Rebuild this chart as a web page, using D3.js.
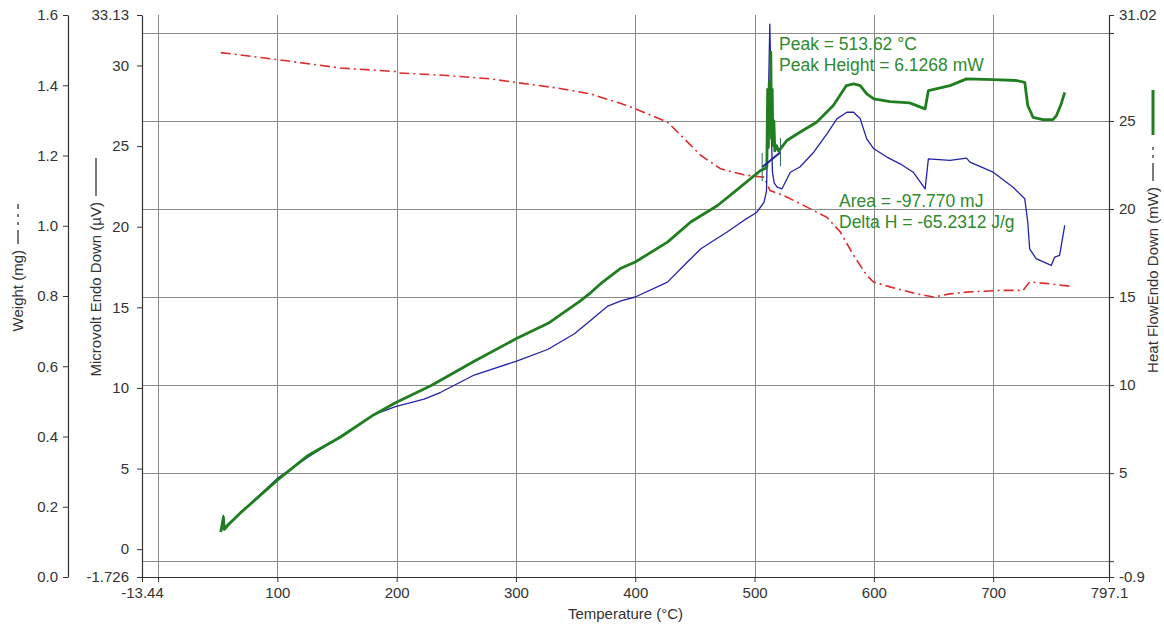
<!DOCTYPE html>
<html>
<head>
<meta charset="utf-8">
<script src="https://cdn.jsdelivr.net/npm/d3@7"></script>
<style>
  html, body { margin: 0; padding: 0; background: #ffffff; }
  svg { display: block; }
  text { font-family: "Liberation Sans", Arial, sans-serif; }
</style>
</head>
<body>
<script>
// ---- Data: TGA / DTA / DSC run, sample heated from ambient to ~760 °C ----

// Weight (mg) vs temperature (°C)
const weightTemps = [52.6, 100, 153, 199, 202, 237, 279, 300, 335, 363, 371, 388, 400, 427, 441, 455, 471.6, 491, 508, 513, 524.5, 544, 560.7, 571.9, 583, 594, 599.7, 613.6, 636, 650, 663.8, 677.7, 705.6, 725, 730.6, 747, 764];
const weightValues = [1.493, 1.473, 1.449, 1.439, 1.435, 1.429, 1.418, 1.408, 1.392, 1.375, 1.366, 1.348, 1.333, 1.295, 1.248, 1.200, 1.162, 1.145, 1.138, 1.100, 1.086, 1.053, 1.024, 0.982, 0.916, 0.859, 0.840, 0.826, 0.806, 0.797, 0.806, 0.811, 0.816, 0.816, 0.840, 0.835, 0.828];

// Microvolt signal, endo down (µV)
const microvoltTemps = [52.6, 54.8, 55.5, 58.7, 69, 100, 125, 153, 181, 199, 223, 237, 265, 300, 327, 349, 363, 371, 377, 388, 400, 427, 443.7, 455, 477, 491, 502, 508, 510, 511.2, 512, 512.8, 513.5, 514.2, 515, 516.5, 519, 523, 530, 538, 549.6, 560.7, 569, 577.4, 583, 588.6, 594, 600, 610.9, 622, 633, 643, 645.7, 663.8, 677.7, 680.5, 700, 716.7, 726.5, 729, 730.6, 736, 748.7, 751.5, 755.7, 760];
const microvoltValues = [1.07, 2.09, 1.33, 1.56, 2.25, 4.39, 5.67, 7.00, 8.34, 8.84, 9.30, 9.73, 10.80, 11.65, 12.40, 13.36, 14.22, 14.71, 15.08, 15.40, 15.64, 16.56, 17.81, 18.63, 19.67, 20.39, 20.90, 21.52, 22.20, 26.00, 29.50, 32.56, 30.00, 25.50, 23.40, 22.70, 22.45, 22.35, 23.38, 23.70, 24.62, 25.76, 26.69, 27.10, 27.10, 26.69, 25.45, 24.83, 24.32, 23.90, 23.38, 22.35, 24.21, 24.11, 24.25, 24.00, 23.38, 22.45, 21.73, 20.29, 18.63, 18.02, 17.60, 18.11, 18.22, 20.08];

// Heat flow, endo down (mW)
const heatTemps = [52.6, 54.8, 55.5, 58.7, 69, 100, 125, 153, 181, 199, 229, 265, 300, 327, 354, 363, 371, 388, 400, 427, 446.5, 469, 488, 505, 509, 510.3, 511.0, 511.6, 512.3, 513.0, 514.2, 514.8, 515.4, 516.2, 517.0, 518.5, 520, 521.7, 527, 538, 552, 566, 577, 583, 588.6, 594, 600, 613.6, 630, 643, 645.7, 663.8, 677.7, 700, 719.5, 726.5, 729, 733.4, 741.8, 750, 753, 757, 760];
const heatValues = [1.66, 2.50, 1.80, 2.05, 2.74, 4.60, 5.97, 7.05, 8.32, 9.00, 9.98, 11.35, 12.63, 13.51, 14.78, 15.27, 15.76, 16.64, 16.99, 18.12, 19.26, 20.20, 21.24, 22.19, 22.30, 22.40, 26.80, 23.50, 27.20, 24.50, 24.00, 26.80, 23.60, 25.00, 23.30, 23.60, 23.30, 23.42, 23.89, 24.36, 24.93, 25.88, 27.01, 27.11, 27.01, 26.54, 26.25, 26.10, 26.03, 25.69, 26.73, 27.01, 27.39, 27.35, 27.30, 27.20, 25.88, 25.21, 25.08, 25.08, 25.30, 25.97, 26.63];

// Integration baseline under the exotherm (°C, mW)
const baselineTemps = [506.4, 521.7];
const baselineValues = [22.38, 23.23];

// Peak analysis results
const peakTemp = 513.62;      // °C
const peakHeight = 6.1268;    // mW above the baseline
const areaValue = -97.770;    // mJ
const deltaH = -65.2312;      // J/g

// Axis ranges and tick labels
const tempRange = [-13.44, 797.1];
const tempTicks = [-13.44, 0, 100, 200, 300, 400, 500, 600, 700, 797.1];
const weightRange = [0, 1.6];
const weightTicks = [0, 0.2, 0.4, 0.6, 0.8, 1.0, 1.2, 1.4, 1.6];
const microvoltRange = [-1.726, 33.13];
const microvoltTicks = [-1.726, 0, 5, 10, 15, 20, 25, 30, 33.13];
const heatRange = [-0.9, 31.02];
const heatTicks = [-0.9, 0, 5, 10, 15, 20, 25, 30, 31.02];
const heatGrid = [0, 5, 10, 15, 20, 25, 30];
const tempGrid = [0, 100, 200, 300, 400, 500, 600, 700];

// ---- Layout ----
const W = 1164, H = 628;
const plot = { left: 142, right: 1109, top: 15, bottom: 577 };
const weightAxisX = 68;
const tickFont = "15px";
const titleFont = "15px";
const noteFont = "17.5px";

const svg = d3.select("body").append("svg")
  .attr("width", W).attr("height", H)
  .style("background", "#ffffff");

const x = d3.scaleLinear().domain(tempRange).range([plot.left, plot.right]);
const yW = d3.scaleLinear().domain(weightRange).range([plot.bottom, plot.top]);
const yUV = d3.scaleLinear().domain(microvoltRange).range([plot.bottom, plot.top]);
const yHF = d3.scaleLinear().domain(heatRange).range([plot.bottom, plot.top]);

const gridColor = "#8a8a8a";
const axisColor = "#333333";
const labelColor = "#333333";

// Grid
const grid = svg.append("g");
grid.selectAll("line.h").data(heatGrid).join("line")
  .attr("x1", plot.left).attr("x2", plot.right)
  .attr("y1", d => Math.round(yHF(d)) + 0.5).attr("y2", d => Math.round(yHF(d)) + 0.5)
  .attr("stroke", gridColor).attr("stroke-width", 1);
grid.selectAll("line.v").data(tempGrid).join("line")
  .attr("y1", plot.top).attr("y2", plot.bottom)
  .attr("x1", d => Math.round(x(d)) + 0.5).attr("x2", d => Math.round(x(d)) + 0.5)
  .attr("stroke", gridColor).attr("stroke-width", 1);

// Axis formatters: interior ticks without a label where they would crowd the end values
const fmtTemp = d => (d === 0 ? "" : String(d));
const fmtWeight = d => d3.format(".1f")(d);
const fmtUV = d => String(d);
const fmtHF = d => (d === 0 || d === 30 ? "" : String(d));

function styleAxis(g) {
  g.selectAll("path.domain").attr("stroke", axisColor).attr("stroke-width", 1.2);
  g.selectAll(".tick line").attr("stroke", axisColor);
  g.selectAll(".tick text")
    .attr("fill", labelColor)
    .style("font-family", '"Liberation Sans", Arial, sans-serif')
    .style("font-size", tickFont);
}

svg.append("g")
  .attr("transform", `translate(0,${plot.bottom})`)
  .call(d3.axisBottom(x).tickValues(tempTicks).tickFormat(fmtTemp).tickSize(5).tickSizeOuter(0).tickPadding(5))
  .call(styleAxis);

svg.append("g")
  .attr("transform", `translate(${weightAxisX},0)`)
  .call(d3.axisLeft(yW).tickValues(weightTicks).tickFormat(fmtWeight).tickSize(5).tickSizeOuter(0).tickPadding(5))
  .call(styleAxis);

svg.append("g")
  .attr("transform", `translate(${plot.left},0)`)
  .call(d3.axisLeft(yUV).tickValues(microvoltTicks).tickFormat(fmtUV).tickSize(5).tickSizeOuter(0).tickPadding(8))
  .call(styleAxis);

svg.append("g")
  .attr("transform", `translate(${plot.right},0)`)
  .call(d3.axisRight(yHF).tickValues(heatTicks).tickFormat(fmtHF).tickSize(5).tickSizeOuter(0).tickPadding(5))
  .call(styleAxis);

// Axis titles, each followed by a sample of its line style
function axisTitle(cx, yEnd, label, sample) {
  const g = svg.append("g").attr("transform", `translate(${cx},${yEnd}) rotate(-90)`);
  g.append("text")
    .attr("x", 0).attr("y", 0).attr("dy", "0.35em")
    .attr("text-anchor", "end")
    .attr("fill", labelColor)
    .style("font-size", titleFont)
    .text(label);
  sample(g);
}

axisTitle(18, 250, "Weight (mg)", g => {
  g.append("line").attr("x1", 6).attr("x2", 46).attr("y1", 0).attr("y2", 0)
    .attr("stroke", "#222").attr("stroke-width", 1.2).attr("stroke-dasharray", "14,5,3,5,3,5");
});
axisTitle(96, 202, "Microvolt Endo Down (µV)", g => {
  g.append("line").attr("x1", 6).attr("x2", 44).attr("y1", 0).attr("y2", 0)
    .attr("stroke", "#222").attr("stroke-width", 1.2);
});
axisTitle(1153, 187, "Heat FlowEndo Down (mW)", g => {
  g.append("line").attr("x1", 6).attr("x2", 46).attr("y1", 0).attr("y2", 0)
    .attr("stroke", "#222").attr("stroke-width", 1.2).attr("stroke-dasharray", "18,5,3,5,3,6");
  g.append("line").attr("x1", 52).attr("x2", 97).attr("y1", 0).attr("y2", 0)
    .attr("stroke", "#1f7f1f").attr("stroke-width", 3);
});

svg.append("text")
  .attr("x", (plot.left + plot.right) / 2).attr("y", 619)
  .attr("text-anchor", "middle")
  .attr("fill", labelColor)
  .style("font-size", titleFont)
  .text("Temperature (°C)");

// ---- Series ----
svg.append("clipPath").attr("id", "plot-clip")
  .append("rect")
  .attr("x", plot.left).attr("y", plot.top)
  .attr("width", plot.right - plot.left).attr("height", plot.bottom - plot.top);

const layer = svg.append("g").attr("clip-path", "url(#plot-clip)");

function zipSeries(ts, vs) { return ts.map((t, i) => ({ t, v: vs[i] })); }

// Heat flow: place the exotherm peak at its reported temperature and height
const baselineAt = d3.scaleLinear().domain(baselineTemps).range(baselineValues);
const heatSeries = zipSeries(heatTemps, heatValues);
heatSeries.push({ t: peakTemp, v: baselineAt(peakTemp) + peakHeight });
heatSeries.sort((a, b) => a.t - b.t);

const weightSeries = zipSeries(weightTemps, weightValues);
const microvoltSeries = zipSeries(microvoltTemps, microvoltValues);

layer.append("path")
  .datum(weightSeries)
  .attr("fill", "none")
  .attr("stroke", "#de2b2b")
  .attr("stroke-width", 1.6)
  .attr("stroke-dasharray", "10,4,2,4")
  .attr("d", d3.line().x(d => x(d.t)).y(d => yW(d.v)));

layer.append("path")
  .datum(microvoltSeries)
  .attr("fill", "none")
  .attr("stroke", "#2323a8")
  .attr("stroke-width", 1.3)
  .attr("stroke-linejoin", "round")
  .attr("d", d3.line().x(d => x(d.t)).y(d => yUV(d.v)));

layer.append("path")
  .datum(heatSeries)
  .attr("fill", "none")
  .attr("stroke", "#1f7f1f")
  .attr("stroke-width", 2.8)
  .attr("stroke-linejoin", "round")
  .attr("d", d3.line().x(d => x(d.t)).y(d => yHF(d.v)));

// Integration baseline with its limit markers
const baseSeries = zipSeries(baselineTemps, baselineValues);
layer.append("path")
  .datum(baseSeries)
  .attr("fill", "none")
  .attr("stroke", "#2323a8")
  .attr("stroke-width", 2)
  .attr("d", d3.line().x(d => x(d.t)).y(d => yHF(d.v)));
layer.selectAll("line.limit").data(baseSeries).join("line")
  .attr("x1", d => x(d.t)).attr("x2", d => x(d.t))
  .attr("y1", d => yHF(d.v + 0.8)).attr("y2", d => yHF(d.v - 0.8))
  .attr("stroke", "#2a6a5a").attr("stroke-width", 1);

// Peak annotations
const noteColor = "#2e8b2e";
const notes = svg.append("g").attr("fill", noteColor).style("font-size", noteFont);
notes.append("text").attr("x", 779).attr("y", 50).text(`Peak = ${peakTemp.toFixed(2)} °C`);
notes.append("text").attr("x", 779).attr("y", 71).text(`Peak Height = ${peakHeight.toFixed(4)} mW`);
notes.append("text").attr("x", 839).attr("y", 207).text(`Area = ${areaValue.toFixed(3)} mJ`);
notes.append("text").attr("x", 839).attr("y", 228).text(`Delta H = ${deltaH.toFixed(4)} J/g`);
</script>
</body>
</html>
